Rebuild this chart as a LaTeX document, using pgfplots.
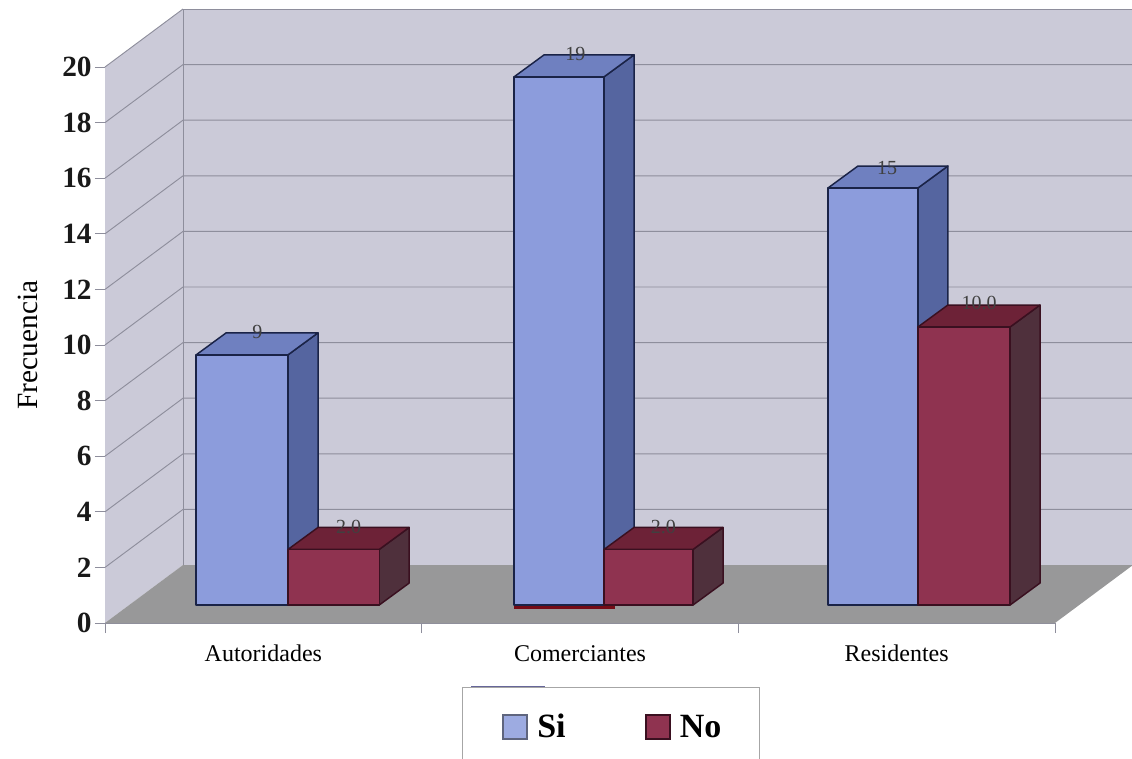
\documentclass[border=0pt]{standalone}
\usepackage{fontspec}
\setmainfont{Liberation Serif}
\usepackage{pgfplots}
\pgfplotsset{compat=1.18}
\definecolor{wallc}{HTML}{CBCAD8}
\definecolor{gridc}{HTML}{8E8E9C}
\definecolor{floorc}{HTML}{989899}
\definecolor{sifront}{HTML}{8C9CDC}
\definecolor{sitop}{HTML}{6F80C0}
\definecolor{siside}{HTML}{5565A0}
\definecolor{siedge}{HTML}{1A2347}
\definecolor{nofront}{HTML}{8F3350}
\definecolor{notop}{HTML}{6D2237}
\definecolor{noside}{HTML}{4F303C}
\definecolor{noedge}{HTML}{3A1020}
% one box: left, right, value, colours, edge
\newcommand{\barbox}[7]{%
  \pgfmathsetmacro{\yb}{0.647}%
  \pgfmathsetmacro{\yt}{0.647+#3}%
  \pgfmathsetmacro{\xd}{#2+0.0947}%
  \pgfmathsetmacro{\xe}{#1+0.0947}%
  \pgfmathsetmacro{\ytd}{\yt+0.791}%
  \pgfmathsetmacro{\ybd}{\yb+0.791}%
  \addplot[fill=#6,draw=#7,line width=1.1pt,line join=round,forget plot] coordinates {(#2,\yb)(#2,\yt)(\xd,\ytd)(\xd,\ybd)} --cycle;
  \addplot[fill=#5,draw=#7,line width=1.1pt,line join=round,forget plot] coordinates {(#1,\yt)(#2,\yt)(\xd,\ytd)(\xe,\ytd)} --cycle;
  \addplot[fill=#4,draw=#7,line width=1.1pt,line join=round,forget plot] coordinates {(#1,\yb)(#2,\yb)(#2,\yt)(#1,\yt)} --cycle;
}
\newcommand{\gl}[2]{\addplot[gridc,line width=0.7pt,forget plot] coordinates {(0,#1)(0.2463,#2)(3.2463,#2)};}
\begin{document}
\begin{tikzpicture}
\path[use as bounding box,clip] (0,0) rectangle (849pt,568.5pt);
\begin{axis}[
  at={(78.75pt,101.25pt)},anchor=south west,
  scale only axis,width=712.5pt,height=417pt,
  xmin=0,xmax=3,ymin=0,ymax=20,clip=false,
  axis x line*=bottom,axis y line*=left,
  axis line style={gridc,line width=0.7pt,-},
  xtick={0,1,2,3},xticklabels={Autoridades,Comerciantes,Residentes},
  x tick label as interval=true,
  ytick={0,2,...,20},
  tick align=outside,tick style={gridc,line width=0.7pt},major tick length=7.5pt,
  /pgf/number format/assume math mode=true,
  yticklabel style={font=\fontsize{22}{22}\selectfont\bfseries,text=black!90,xshift=1pt},
  xticklabel style={font=\fontsize{18}{18}\selectfont,text=black,yshift=-5pt,text height=13pt,text depth=0pt},
  ylabel={Frecuencia},
  ylabel style={at={(axis description cs:-0.081,0.5)},anchor=center,font=\fontsize{22}{22}\selectfont,text=black},
  legend style={at={(axis cs:1.127,-2.302)},anchor=north west,draw=gray!70,line width=0.7pt,fill=white,
    font=\fontsize{25.5}{25.5}\selectfont\bfseries,inner xsep=26.5pt,inner ysep=18pt,
    /tikz/every odd column/.append style={column sep=5pt},
    /tikz/every even column/.append style={column sep=54pt}},
  legend columns=2,
  legend cell align=left,
]
% walls and floor
\addplot[fill=wallc,draw=none,forget plot] coordinates {(0,0)(0,20)(0.2463,22.086)(0.2463,2.086)} --cycle;
\addplot[fill=wallc,draw=none,forget plot] coordinates {(0.2463,2.086)(0.2463,22.086)(3.2463,22.086)(3.2463,2.086)} --cycle;
\addplot[fill=floorc,draw=none,forget plot] coordinates {(0,0)(3,0)(3.2463,2.086)(0.2463,2.086)} --cycle;
\addplot[gridc,line width=0.7pt,forget plot] coordinates {(0.2463,2.086)(0.2463,22.086)(3.2463,22.086)};
\addplot[gridc,line width=0.7pt,forget plot] coordinates {(0,20)(0.2463,22.086)};
\gl{2}{4.086}\gl{4}{6.086}\gl{6}{8.086}\gl{8}{10.086}\gl{10}{12.086}
\gl{12}{14.086}\gl{14}{16.086}\gl{16}{18.086}\gl{18}{20.086}
% bars: Si then No
\barbox{0.288}{0.578}{9}{sifront}{sitop}{siside}{siedge}
\barbox{0.578}{0.866}{2}{nofront}{notop}{noside}{noedge}
\barbox{1.292}{1.576}{19}{sifront}{sitop}{siside}{siedge}
\barbox{1.576}{1.857}{2}{nofront}{notop}{noside}{noedge}
\barbox{2.283}{2.567}{15}{sifront}{sitop}{siside}{siedge}
\barbox{2.567}{2.858}{10}{nofront}{notop}{noside}{noedge}
\addplot[color=noedge!70!red,line width=1.6pt,forget plot] coordinates {(1.292,0.56)(1.61,0.56)};
% data labels
\node[font=\fontsize{15}{15}\selectfont,text=black!75] at (axis cs:0.481,10.46) {9};
\node[font=\fontsize{15}{15}\selectfont,text=black!75] at (axis cs:0.769,3.47) {2.0};
\node[font=\fontsize{15}{15}\selectfont,text=black!75] at (axis cs:1.485,20.46) {19};
\node[font=\fontsize{15}{15}\selectfont,text=black!75] at (axis cs:1.763,3.47) {2.0};
\node[font=\fontsize{15}{15}\selectfont,text=black!75] at (axis cs:2.47,16.36) {15};
\node[font=\fontsize{15}{15}\selectfont,text=black!75] at (axis cs:2.76,11.5) {10.0};
% legend
\addlegendimage{legend image code/.code={\path (0pt,0pt); \draw[fill=sifront!85!white,draw=siedge!70,line width=1.2pt] (3.75pt,-9pt) rectangle (21.75pt,9pt);}}
\addlegendentry{Si}
\addlegendimage{legend image code/.code={\path (0pt,0pt); \draw[fill=nofront,draw=noedge,line width=1.2pt] (3.75pt,-9pt) rectangle (21.75pt,9pt);}}
\addlegendentry{No}
\addplot[color=gray!80!blue,line width=1.4pt,forget plot] coordinates {(1.156,-2.302)(1.39,-2.302)};
\end{axis}
\end{tikzpicture}
\end{document}
